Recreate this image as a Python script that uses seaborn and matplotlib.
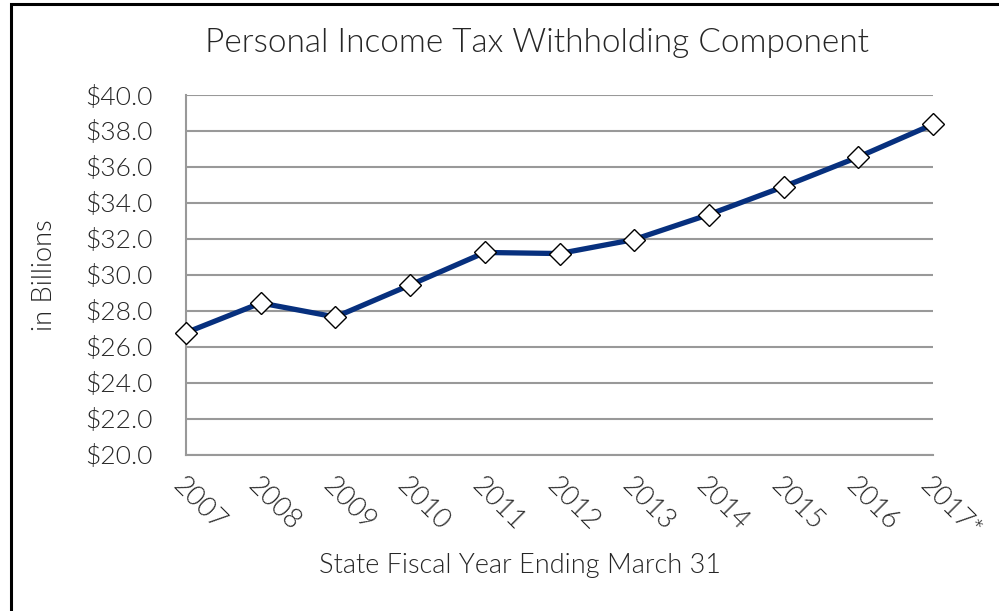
import matplotlib
matplotlib.use("Agg")
import matplotlib.pyplot as plt
import seaborn as sns
import pandas as pd
from matplotlib.patches import Rectangle

years = ["2007", "2008", "2009", "2010", "2011", "2012", "2013", "2014", "2015", "2016", "2017*"]
withholding = [26.78, 28.43, 27.65, 29.43, 31.24, 31.18, 31.96, 33.35, 34.90, 36.55, 38.37]
y_ticks = [20, 22, 24, 26, 28, 30, 32, 34, 36, 38, 40]

df = pd.DataFrame({"pos": range(len(years)), "value": withholding})

sns.set_theme(style="white")
plt.rcParams["font.family"] = ["Lato", "DejaVu Sans"]
FW = 300
TC = "#262626"

W, H = 999, 611
fig = plt.figure(figsize=(W / 100, H / 100), dpi=100)
ax = fig.add_axes([186 / W, 1 - 454.5 / H, (933 - 186) / W, (454.5 - 95) / H])

sns.lineplot(data=df, x="pos", y="value", ax=ax, color="#07307e", linewidth=3.8,
             marker="D", markersize=11.5, markerfacecolor="white",
             markeredgecolor="black", markeredgewidth=1.0, zorder=3, clip_on=False)

ax.set_xlim(0, len(years) - 1)
ax.set_ylim(20, 40)
ax.set_yticks(y_ticks)
ax.set_yticklabels([f"${v:.1f}" for v in y_ticks], fontsize=19, fontweight=FW, color=TC)
ax.set_xticks(range(len(years)))
ax.set_xticklabels(years, rotation=-45, ha="left", va="top", rotation_mode="anchor",
                   fontsize=19.5, fontweight=FW, color=TC)
ax.tick_params(axis="both", length=7, width=1.5, color="#999999", direction="out")
ax.tick_params(axis="x", pad=6)
ax.tick_params(axis="y", pad=17)
for lab in ax.get_yticklabels():
    lab.set_horizontalalignment("right")
ax.yaxis.grid(True, color="#999999", linewidth=1.5)
ax.set_axisbelow(True)
for s in ["top", "right"]:
    ax.spines[s].set_visible(False)
ax.spines["left"].set_color("#999999")
ax.spines["left"].set_linewidth(1.5)
ax.spines["bottom"].set_color("#999999")
ax.spines["bottom"].set_linewidth(1.5)

ax.set_xlabel("")
ax.set_ylabel("")
fig.text(520 / W, 1 - 565 / H, "State Fiscal Year Ending March 31", ha="center", va="center",
         fontsize=19.5, fontweight=FW, color=TC)
fig.text(45 / W, 1 - 275 / H, "in Billions", ha="center", va="center", rotation=90,
         fontsize=19.5, fontweight=FW, color=TC)
fig.text(537 / W, 1 - 43 / H, "Personal Income Tax Withholding Component", ha="center", va="center",
         fontsize=24, fontweight=FW, color=TC)

fig.patches.append(Rectangle((11 / W, -0.05), 1.1, 1 - 4 / H + 0.05, transform=fig.transFigure,
                             fill=False, edgecolor="black", linewidth=2.2))

fig.savefig("out.png", dpi=100)
